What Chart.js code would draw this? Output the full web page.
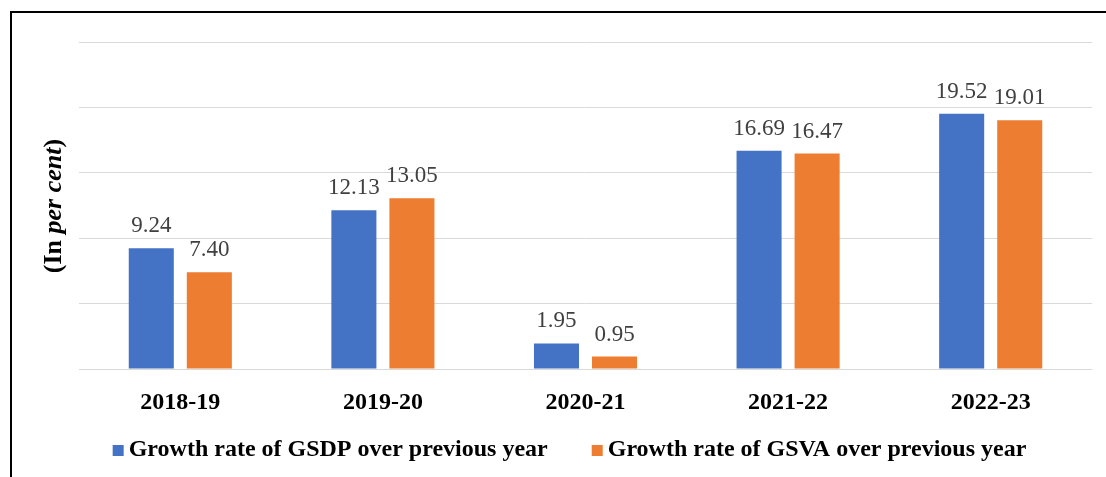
<!DOCTYPE html>
<html>
<head>
<meta charset="utf-8">
<script src="https://cdn.jsdelivr.net/npm/chart.js@4.4.1/dist/chart.umd.min.js"></script>
<style>
  html, body { margin: 0; padding: 0; background: #fff; overflow: hidden; }
  #wrap { position: relative; width: 1106px; height: 477px; }
  #frame { position: absolute; left: 10px; top: 11px; width: 1200px; height: 600px;
           border-left: 2px solid #000; border-top: 2px solid #000; pointer-events: none; }
  canvas { position: absolute; left: 0; top: 0; }
</style>
</head>
<body>
<div id="wrap">
  <canvas id="c" width="1106" height="477"></canvas>
  <div id="frame"></div>
</div>
<script>
const categories = ["2018-19", "2019-20", "2020-21", "2021-22", "2022-23"];
const gsdpGrowth = [9.24, 12.13, 1.95, 16.69, 19.52];
const gsvaGrowth = [7.40, 13.05, 0.95, 16.47, 19.01];
const seriesNames = ["Growth rate of GSDP over previous year", "Growth rate of GSVA over previous year"];
const yTicks = [0, 5, 10, 15, 20, 25];

const SERIF = "'Liberation Serif', 'Times New Roman', serif";

const valueLabels = {
  id: 'valueLabels',
  afterDatasetsDraw(chart) {
    const ctx = chart.ctx;
    ctx.save();
    ctx.font = "23px " + SERIF;
    ctx.fillStyle = "#404040";
    ctx.textAlign = "center";
    ctx.textBaseline = "alphabetic";
    chart.data.datasets.forEach((ds, i) => {
      const meta = chart.getDatasetMeta(i);
      meta.data.forEach((bar, j) => {
        ctx.fillText(ds.data[j].toFixed(2), bar.x, bar.y - 16);
      });
    });
    ctx.restore();
  }
};

const yTitle = {
  id: 'yTitle',
  afterDraw(chart) {
    const ctx = chart.ctx;
    const parts = [
      ["bold 26px " + SERIF, "(In "],
      ["italic bold 26px " + SERIF, "per cent"],
      ["bold 26px " + SERIF, ")"]
    ];
    ctx.save();
    let total = 0;
    parts.forEach(p => { ctx.font = p[0]; total += ctx.measureText(p[1]).width; });
    ctx.translate(61, 206);
    ctx.rotate(-Math.PI / 2);
    ctx.fillStyle = "#000";
    ctx.textBaseline = "alphabetic";
    ctx.textAlign = "left";
    let x = -total / 2;
    parts.forEach(p => { ctx.font = p[0]; ctx.fillText(p[1], x, 0); x += ctx.measureText(p[1]).width; });
    ctx.restore();
  }
};

// Legend drawn from the datasets' labels and colours
const bottomLegend = {
  id: 'bottomLegend',
  afterDraw(chart) {
    const ctx = chart.ctx;
    const box = 11, gapText = 5, gapItem = 44, centerX = 569.5, centerY = 450;
    ctx.save();
    ctx.font = "bold 24px " + SERIF;
    const items = chart.data.datasets.map(ds => ({
      text: ds.label, color: ds.backgroundColor, w: ctx.measureText(ds.label).width
    }));
    let total = 0;
    items.forEach((it, i) => { total += box + gapText + it.w + (i > 0 ? gapItem : 0); });
    let x = centerX - total / 2;
    ctx.textBaseline = "middle";
    ctx.textAlign = "left";
    items.forEach((it, i) => {
      if (i > 0) x += gapItem;
      ctx.fillStyle = it.color;
      ctx.fillRect(x, centerY - 5, box, box);
      x += box + gapText;
      ctx.fillStyle = "#000";
      ctx.fillText(it.text, x, centerY);
      x += it.w;
    });
    ctx.restore();
  }
};

new Chart(document.getElementById('c'), {
  type: 'bar',
  data: {
    labels: categories,
    datasets: [
      { label: seriesNames[0], data: gsdpGrowth, backgroundColor: '#4472C4', borderWidth: 0,
        categoryPercentage: 0.573, barPercentage: 0.776 },
      { label: seriesNames[1], data: gsvaGrowth, backgroundColor: '#ED7D31', borderWidth: 0,
        categoryPercentage: 0.573, barPercentage: 0.776 }
    ]
  },
  options: {
    responsive: false,
    animation: false,
    devicePixelRatio: 1,
    layout: { padding: { left: 44, right: 14, top: 42, bottom: 62 } },
    plugins: {
      legend: { display: false },
      tooltip: { enabled: false },
      title: { display: false }
    },
    scales: {
      x: {
        grid: { display: false, drawTicks: false },
        border: { display: false },
        ticks: { color: '#000', padding: 19, font: { family: SERIF, size: 24, weight: 'bold' } },
        afterFit(scale) { scale.height = 46; }
      },
      y: {
        min: 0, max: 25,
        afterBuildTicks(scale) { scale.ticks = yTicks.map(v => ({ value: v })); },
        grid: { color: '#D9D9D9', lineWidth: 1, drawTicks: false },
        border: { display: false },
        ticks: { display: false },
        afterFit(scale) { scale.width = 35; }
      }
    }
  },
  plugins: [valueLabels, yTitle, bottomLegend]
});
</script>
</body>
</html>
